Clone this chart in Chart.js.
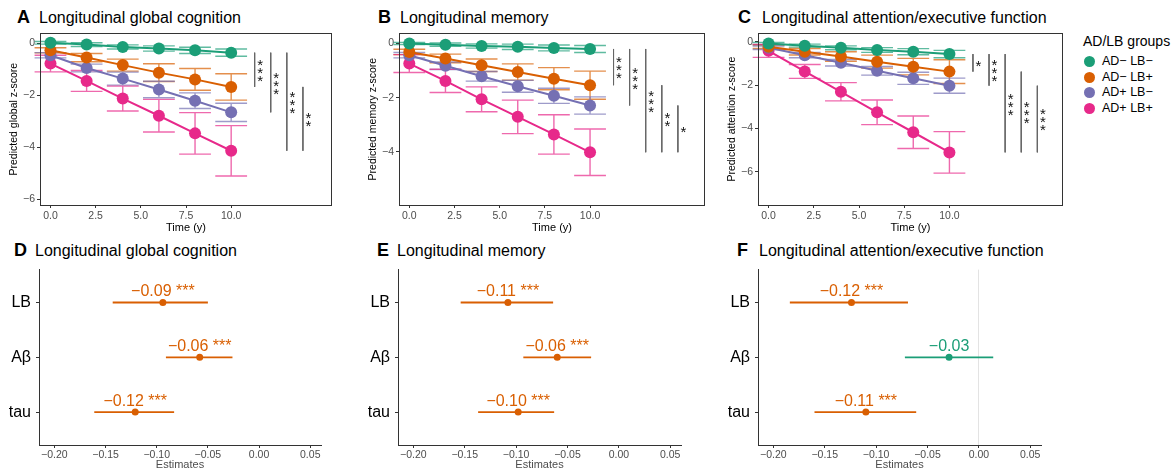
<!DOCTYPE html>
<html><head><meta charset="utf-8">
<script src="https://cdn.jsdelivr.net/npm/chart.js@4.4.1/dist/chart.umd.min.js"></script>
<style>
html,body{margin:0;padding:0;background:#fff}
body{width:1174px;height:472px;position:relative;overflow:hidden;font-family:"Liberation Sans",Arial,Helvetica,sans-serif;color:#000}
.abs{position:absolute;white-space:nowrap}
.let{font-weight:bold;font-size:18px;line-height:18px}
.ttl{font-size:16px;line-height:16px}
canvas{display:block}
</style></head><body>
<div class="abs let" style="left:17px;top:8px">A</div>
<div class="abs ttl" style="left:39px;top:10px">Longitudinal global cognition</div>
<div class="abs let" style="left:378px;top:8px">B</div>
<div class="abs ttl" style="left:400px;top:10px">Longitudinal memory</div>
<div class="abs let" style="left:738px;top:8px">C</div>
<div class="abs ttl" style="left:762px;top:10px">Longitudinal attention/executive function</div>
<div class="abs let" style="left:14px;top:241px">D</div>
<div class="abs ttl" style="left:35px;top:243px">Longitudinal global cognition</div>
<div class="abs let" style="left:377px;top:241px">E</div>
<div class="abs ttl" style="left:397px;top:243px">Longitudinal memory</div>
<div class="abs let" style="left:737px;top:241px">F</div>
<div class="abs ttl" style="left:759px;top:243px">Longitudinal attention/executive function</div>

<div class="abs" style="left:0px;top:25px"><canvas id="cA" width="337" height="215"></canvas></div>
<div class="abs" style="left:359px;top:25px"><canvas id="cB" width="351" height="215"></canvas></div>
<div class="abs" style="left:718px;top:25px"><canvas id="cC" width="350" height="215"></canvas></div>
<div class="abs" style="left:0px;top:255px"><canvas id="cD" width="326" height="217"></canvas></div>
<div class="abs" style="left:359px;top:255px"><canvas id="cE" width="327" height="217"></canvas></div>
<div class="abs" style="left:719px;top:255px"><canvas id="cF" width="327" height="217"></canvas></div>
<div id="legend"></div>

<script>
// ---------- DATA ----------
const years = [0, 2, 4, 6, 8, 10];
const groupNames = ['AD− LB−', 'AD− LB+', 'AD+ LB−', 'AD+ LB+'];
const legendTitle = 'AD/LB groups';
const timeTicks = [0, 2.5, 5, 7.5, 10];

// Panel A: global cognition (group order as groupNames)
const globalMeans = [
  [0.03, -0.04, -0.13, -0.19, -0.26, -0.35],
  [-0.26, -0.54, -0.83, -1.12, -1.38, -1.67],
  [-0.45, -0.94, -1.35, -1.77, -2.20, -2.65],
  [-0.77, -1.44, -2.12, -2.78, -3.46, -4.13]
];
const globalErr = [
  [0.05, 0.07, 0.08, 0.10, 0.12, 0.14],
  [0.10, 0.16, 0.23, 0.34, 0.42, 0.51],
  [0.10, 0.15, 0.25, 0.32, 0.30, 0.35],
  [0.32, 0.40, 0.48, 0.63, 0.80, 0.97]
];
const globalSig = [[0, 1, '***'], [0, 2, '***'], [0, 3, '***'], [1, 3, '**']];
const globalYTicks = [0, -2, -4, -6];

// Panel B: memory
const memoryMeans = [
  [0.00, -0.04, -0.09, -0.12, -0.16, -0.20],
  [-0.31, -0.55, -0.80, -1.05, -1.30, -1.54],
  [-0.43, -0.82, -1.21, -1.58, -1.93, -2.29],
  [-0.74, -1.38, -2.06, -2.71, -3.36, -4.02]
];
const memoryErr = [
  [0.04, 0.06, 0.08, 0.10, 0.11, 0.13],
  [0.10, 0.16, 0.23, 0.30, 0.41, 0.52],
  [0.10, 0.14, 0.18, 0.22, 0.28, 0.32],
  [0.33, 0.43, 0.46, 0.62, 0.73, 0.86]
];
const memorySig = [[0, 1, '***'], [0, 2, '***'], [0, 3, '***'], [1, 3, '**'], [2, 3, '*']];
const memoryYTicks = [0, -2, -4];

// Panel C: attention/executive function
const attentionMeans = [
  [-0.08, -0.18, -0.28, -0.38, -0.46, -0.57],
  [-0.23, -0.46, -0.68, -0.92, -1.15, -1.38],
  [-0.28, -0.62, -0.97, -1.34, -1.69, -2.03],
  [-0.42, -1.37, -2.31, -3.26, -4.18, -5.11]
];
const attentionErr = [
  [0.05, 0.07, 0.09, 0.11, 0.14, 0.17],
  [0.08, 0.15, 0.22, 0.30, 0.38, 0.55],
  [0.08, 0.12, 0.15, 0.20, 0.28, 0.35],
  [0.30, 0.32, 0.42, 0.57, 0.75, 0.96]
];
const attentionSig = [[0, 1, '*'], [0, 2, '***'], [0, 3, '***'], [1, 3, '***'], [2, 3, '***']];
const attentionYTicks = [0, -2, -4, -6];

// Forest panels D-F
const forestRows = ['LB', 'Aβ', 'tau'];
const estimateTicks = [-0.20, -0.15, -0.10, -0.05, 0.00, 0.05];
const globalEst = [-0.094, -0.058, -0.121];
const globalLo = [-0.143, -0.091, -0.161];
const globalHi = [-0.050, -0.026, -0.083];
const globalStars = ['***', '***', '***'];
const memoryEst = [-0.108, -0.060, -0.098];
const memoryLo = [-0.154, -0.093, -0.137];
const memoryHi = [-0.064, -0.027, -0.063];
const memoryStars = ['***', '***', '***'];
const attentionEst = [-0.124, -0.029, -0.110];
const attentionLo = [-0.184, -0.072, -0.160];
const attentionHi = [-0.069, 0.014, -0.061];
const attentionStars = ['***', '', '***'];

// ---------- STYLE ----------
const COLORS = ['#1B9E77', '#D95F02', '#7570B3', '#E7298A'];
const SIG_COLOR = '#D95F02', NS_COLOR = '#1B9E77';
const FONT = '"Liberation Sans", Arial, Helvetica, sans-serif';
const CAP = 0.88, BR_X0 = 11.3, BR_STEP = 0.89;
Chart.defaults.font.family = FONT;
function rgba(hex, a) { const n = parseInt(hex.slice(1), 16); return `rgba(${n >> 16},${(n >> 8) & 255},${n & 255},${a})`; }
const minus = s => String(s).replace('-', '−');

function topChart(id, means, errs, sig, yTicks, yTitle, xMin, xMax, yMin, yMax, yAxisW) {
  const datasets = means.map((m, g) => ({
    data: years.map((yr, i) => ({ x: yr, y: m[i] })),
    borderColor: COLORS[g], backgroundColor: COLORS[g], borderWidth: 2,
    pointRadius: 6, pointHoverRadius: 6, pointBorderWidth: 0
  }));
  const last = years.length - 1;
  sig.forEach(([a, b], i) => {
    const bx = BR_X0 + i * BR_STEP;
    datasets.push({ data: [{ x: bx, y: means[a][last] }, { x: bx, y: means[b][last] }],
      borderColor: '#666', borderWidth: 1, pointRadius: 0, pointHoverRadius: 0 });
  });
  const plug = {
    id: 'extras',
    beforeDatasetsDraw(chart) {
      const { ctx, scales: { x, y } } = chart;
      ctx.save(); ctx.lineWidth = 1.4;
      means.forEach((m, g) => {
        ctx.strokeStyle = rgba(COLORS[g], 0.7);
        years.forEach((yr, i) => {
          const px = x.getPixelForValue(yr), hw = x.getPixelForValue(yr + CAP) - px;
          const t = y.getPixelForValue(m[i] + errs[g][i]), b = y.getPixelForValue(m[i] - errs[g][i]);
          ctx.beginPath();
          ctx.moveTo(px, t); ctx.lineTo(px, b);
          ctx.moveTo(px - hw, t); ctx.lineTo(px + hw, t);
          ctx.moveTo(px - hw, b); ctx.lineTo(px + hw, b);
          ctx.stroke();
        });
      });
      ctx.restore();
    },
    afterDatasetsDraw(chart) {
      const { ctx, chartArea: a, scales: { x, y } } = chart;
      ctx.save();
      ctx.fillStyle = '#111'; ctx.font = '15px ' + FONT; ctx.textAlign = 'center'; ctx.textBaseline = 'alphabetic';
      sig.forEach(([ga, gb, s], i) => {
        const px = x.getPixelForValue(BR_X0 + i * BR_STEP) + 5.5;
        const py = y.getPixelForValue((means[ga][last] + means[gb][last]) / 2);
        const n = s.length;
        for (let k = 0; k < n; k++) {
          const cy = py + (k - (n - 1) / 2) * 8;
          ctx.fillText('*', px, cy + 0.56 * 15);
        }
      });
      ctx.strokeStyle = '#333'; ctx.lineWidth = 1;
      ctx.strokeRect(Math.round(a.left) + 0.5, Math.round(a.top) + 0.5, Math.round(a.right - a.left) - 1, Math.round(a.bottom - a.top));
      ctx.restore();
    }
  };
  new Chart(document.getElementById(id), {
    type: 'line',
    data: { datasets },
    plugins: [plug],
    options: {
      responsive: false, animation: false, events: [],
      layout: { padding: { top: 8, right: 5, left: 0, bottom: 0 }, autoPadding: false },
      plugins: { legend: { display: false }, tooltip: { enabled: false } },
      scales: {
        x: {
          type: 'linear', min: xMin, max: xMax,
          afterBuildTicks: s => { s.ticks = timeTicks.map(v => ({ value: v })); },
          afterFit: s => { s.height = 35; },
          border: { display: false },
          grid: { display: true, drawOnChartArea: false, drawTicks: true, tickLength: 3, tickColor: '#333' },
          ticks: { padding: 2, color: '#4d4d4d', font: { size: 10.5 }, maxRotation: 0, autoSkip: false, callback: v => v.toFixed(1) },
          title: { display: true, text: 'Time (y)', color: '#000', font: { size: 11 }, padding: { top: 0, bottom: 5 } }
        },
        y: {
          type: 'linear', min: yMin, max: yMax,
          afterBuildTicks: s => { s.ticks = yTicks.map(v => ({ value: v })); },
          afterFit: s => { s.width = yAxisW; },
          border: { display: false },
          grid: { display: true, drawOnChartArea: false, drawTicks: true, tickLength: 3, tickColor: '#333' },
          ticks: { padding: 2, color: '#4d4d4d', font: { size: 10.5 }, autoSkip: false, callback: v => minus(v) },
          title: { display: true, text: yTitle, color: '#000', font: { size: 10.5 }, padding: { top: 8, bottom: 0 } }
        }
      }
    }
  });
}

function forestChart(id, est, lo, hi, stars, zeroLine) {
  const n = forestRows.length;
  const rowY = i => n - i;
  const colorOf = i => stars[i] ? SIG_COLOR : NS_COLOR;
  const datasets = forestRows.map((r, i) => ({
    data: [{ x: lo[i], y: rowY(i) }, { x: hi[i], y: rowY(i) }],
    borderColor: colorOf(i), borderWidth: 1.8, pointRadius: 0, pointHoverRadius: 0
  }));
  datasets.push({
    data: est.map((e, i) => ({ x: e, y: rowY(i) })), showLine: false,
    pointRadius: 3.5, pointHoverRadius: 3.5, pointBorderWidth: 0,
    pointBackgroundColor: est.map((e, i) => colorOf(i)), borderColor: 'transparent'
  });
  const plug = {
    id: 'labels',
    afterDatasetsDraw(chart) {
      const { ctx, scales: { x, y } } = chart;
      ctx.save(); ctx.font = '16px ' + FONT; ctx.textAlign = 'center'; ctx.textBaseline = 'alphabetic';
      est.forEach((e, i) => {
        ctx.fillStyle = colorOf(i);
        const txt = minus(e.toFixed(2)) + (stars[i] ? ' ' + stars[i] : '');
        ctx.fillText(txt, x.getPixelForValue(e), y.getPixelForValue(rowY(i)) - 6);
      });
      ctx.restore();
    }
  };
  new Chart(document.getElementById(id), {
    type: 'line',
    data: { datasets },
    plugins: [plug],
    options: {
      responsive: false, animation: false, events: [],
      layout: { padding: { top: 10, right: 5, left: 0, bottom: 0 }, autoPadding: false },
      plugins: { legend: { display: false }, tooltip: { enabled: false } },
      scales: {
        x: {
          type: 'linear', min: -0.215, max: 0.0605,
          afterBuildTicks: s => { s.ticks = estimateTicks.map(v => ({ value: v })); },
          afterFit: s => { s.height = 27; },
          border: { display: true, color: '#333', width: 1 },
          grid: { display: true, drawOnChartArea: true, drawTicks: true, tickLength: 3, tickColor: '#333',
            color: c => (zeroLine && c.tick && Math.abs(c.tick.value) < 1e-9) ? '#e3e3e3' : 'rgba(0,0,0,0)' },
          ticks: { padding: 1, color: '#4d4d4d', font: { size: 10.5 }, maxRotation: 0, autoSkip: false, callback: v => minus(v.toFixed(2)) },
          title: { display: true, text: 'Estimates', color: '#4d4d4d', font: { size: 11 }, padding: { top: 0, bottom: 0 } }
        },
        y: {
          type: 'linear', min: 0.4, max: n + 0.6,
          afterBuildTicks: s => { s.ticks = forestRows.map((r, i) => ({ value: rowY(i) })); },
          afterFit: s => { s.width = 39; },
          border: { display: true, color: '#333', width: 1 },
          grid: { display: true, drawOnChartArea: false, drawTicks: true, tickLength: 3, tickColor: '#333' },
          ticks: { padding: 5, color: '#000', font: { size: 16 }, autoSkip: false, callback: v => forestRows[n - v] }
        }
      }
    }
  });
}

topChart('cA', globalMeans, globalErr, globalSig, globalYTicks, 'Predicted global z-score', -0.58, 15.58, -6.22, 0.396, 40);
topChart('cB', memoryMeans, memoryErr, memorySig, memoryYTicks, 'Predicted memory z-score', -0.57, 16.36, -5.97, 0.38, 40);
topChart('cC', attentionMeans, attentionErr, attentionSig, attentionYTicks, 'Predicted attention z-score', -0.585, 16.28, -7.54, 0.39, 40);
forestChart('cD', globalEst, globalLo, globalHi, globalStars, false);
forestChart('cE', memoryEst, memoryLo, memoryHi, memoryStars, false);
forestChart('cF', attentionEst, attentionLo, attentionHi, attentionStars, true);

// Legend (HTML)
(function () {
  const lg = document.getElementById('legend');
  const t = document.createElement('div');
  t.className = 'abs'; t.style.cssText = 'left:1083px;top:34px;font-size:14px;line-height:14px';
  t.textContent = legendTitle; lg.appendChild(t);
  const rowsY = [61, 77, 92.5, 108];
  groupNames.forEach((g, i) => {
    const c = document.createElement('div');
    c.className = 'abs';
    c.style.cssText = `left:${1089 - 5.5}px;top:${rowsY[i] - 5.5}px;width:11px;height:11px;border-radius:50%;background:${COLORS[i]}`;
    lg.appendChild(c);
    const s = document.createElement('div');
    s.className = 'abs';
    s.style.cssText = `left:1102px;top:${rowsY[i] + 4.5 - 0.8465 * 12.5}px;font-size:12.5px;line-height:12.5px`;
    s.textContent = g; lg.appendChild(s);
  });
})();
</script>
</body></html>
